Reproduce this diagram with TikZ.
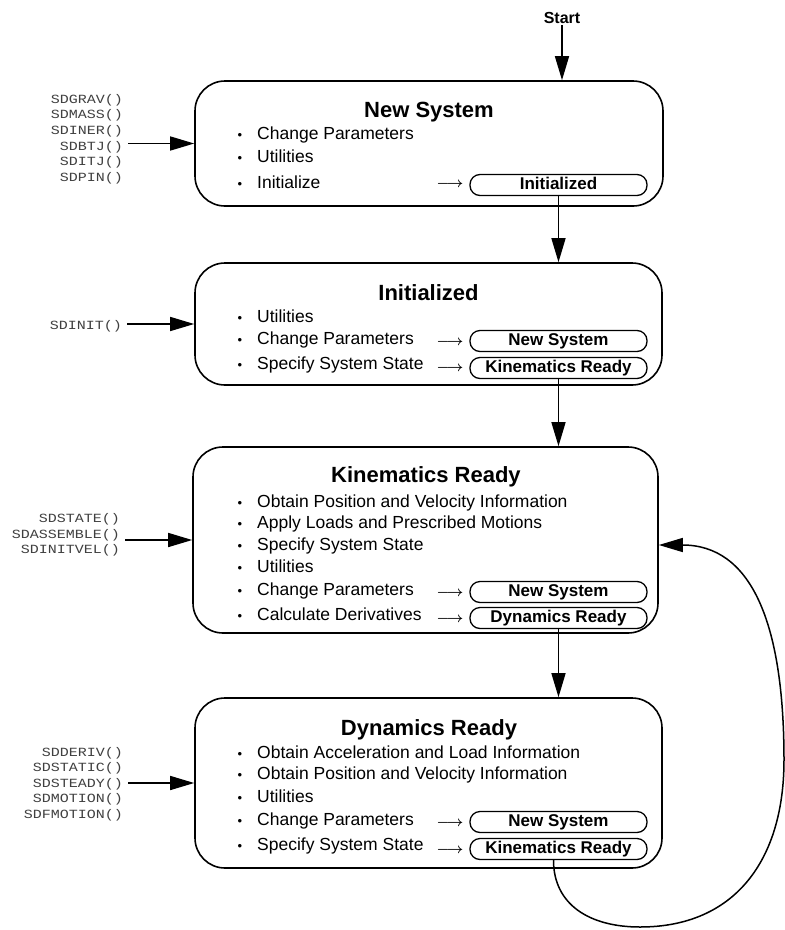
\documentclass[tikz,border=0pt]{standalone}
\usepackage{fontspec}
\setmainfont{Liberation Sans}
\newfontfamily\codefont[FakeStretch=1.2]{Liberation Mono}
\usetikzlibrary{arrows.meta}

\tikzset{
 statebox/.style={draw, line width=1.6pt, rounded corners=30pt, inner sep=0pt},
 subbox/.style={draw, line width=1.3pt, rounded corners=10pt, minimum width=177pt, minimum height=21pt, inner sep=0pt, font=\fontsize{17}{20}\selectfont\bfseries, text height=12.5pt, text depth=3.5pt},
 title/.style={anchor=base, font=\fontsize{22}{26}\selectfont\bfseries, inner sep=0pt},
 btext/.style={anchor=base west, font=\fontsize{17.5}{21}\selectfont, inner sep=0pt},
 bdot/.style={anchor=base, font=\fontsize{13}{15}\selectfont, inner sep=0pt},
 marrow/.style={anchor=base, inner sep=0pt, font=\fontsize{13.5}{15}\selectfont\boldmath},
 fn/.style={anchor=east, align=right, inner sep=0pt, font=\codefont\fontsize{12.5}{15.6}\selectfont, text=black!75},
 conn/.style={line width=1.5pt},
 tip/.style={-{Triangle[length=24pt,width=14pt]}},
}
\newcommand\bitem[3]{\node[bdot] (#1d) at (240,#2) {\textbullet}; \node[btext] (#1) at (257,#2) {#3};}
\newcommand\goarrow[2]{\node[marrow] (#1) at (450,#2) {$\longrightarrow$};}

\begin{document}
\begin{tikzpicture}[x=1pt,y=-1pt]
\useasboundingbox (0,0) rectangle (785,930);

% ---------- state boxes
\node[statebox, minimum width=468pt, minimum height=125pt] (b1) at (429,143.5) {};
\node[statebox, minimum width=467pt, minimum height=122pt] (b2) at (428.5,324) {};
\node[statebox, minimum width=465pt, minimum height=186pt] (b3) at (425.5,540) {};
\node[statebox, minimum width=467pt, minimum height=170pt] (b4) at (428.5,783) {};

% ---------- titles
\node[title] (t1) at (429,117) {New System};
\node[title] (t2) at (428.5,300) {Initialized};
\node[title] (t3) at (426,482) {Kinematics Ready};
\node[title] (t4) at (429,735) {Dynamics Ready};

% ---------- box 1 items
\bitem{a1}{139}{Change Parameters}
\bitem{a2}{162}{Utilities}
\bitem{a3}{188}{Initialize}
\goarrow{r1}{187}
\node[subbox] (ib1) at (558.5,185) {Initialized};

% ---------- box 2 items
\bitem{c1}{322}{Utilities}
\bitem{c2}{344}{Change Parameters}
\bitem{c3}{369}{Specify System State}
\goarrow{r2}{345}
\goarrow{r3}{371}
\node[subbox] (ib2) at (558.5,341) {New System};
\node[subbox] (ib3) at (558.5,368) {Kinematics Ready};

% ---------- box 3 items
\bitem{k1}{507}{Obtain Position and Velocity Information}
\bitem{k2}{528}{Apply Loads and Prescribed Motions}
\bitem{k3}{550}{Specify System State}
\bitem{k4}{572}{Utilities}
\bitem{k5}{595}{Change Parameters}
\bitem{k6}{620}{Calculate Derivatives}
\goarrow{r4}{596}
\goarrow{r5}{622}
\node[subbox] (ib4) at (558.5,592) {New System};
\node[subbox] (ib5) at (558.5,618) {Dynamics Ready};

% ---------- box 4 items
\bitem{d1}{758}{Obtain Acceleration and Load Information}
\bitem{d2}{779}{Obtain Position and Velocity Information}
\bitem{d3}{802}{Utilities}
\bitem{d4}{825}{Change Parameters}
\bitem{d5}{850}{Specify System State}
\goarrow{r6}{826}
\goarrow{r7}{853}
\node[subbox] (ib6) at (558.5,822) {New System};
\node[subbox] (ib7) at (558.5,849) {Kinematics Ready};

% ---------- function labels
\node[fn] (f1) at (123,139) {SDGRAV()\\SDMASS()\\SDINER()\\SDBTJ()\\SDITJ()\\SDPIN()};
\node[fn] (f2) at (122,326) {SDINIT()};
\node[fn] (f3) at (120,535) {SDSTATE()\\SDASSEMBLE()\\SDINITVEL()};
\node[fn] (f4) at (123,784) {SDDERIV()\\SDSTATIC()\\SDSTEADY()\\SDMOTION()\\SDFMOTION()};

\draw[conn,tip] ([xshift=5pt]f1.east |- b1.west) -- (b1.west);
\draw[conn,tip] ([xshift=5pt]f2.east |- b2.west) -- (b2.west);
\draw[conn,tip] ([xshift=5pt]f3.east |- b3.west) -- (b3.west);
\draw[conn,tip] ([xshift=5pt]f4.east |- b4.west) -- (b4.west);

% ---------- start
\node[anchor=base, inner sep=2pt, font=\fontsize{16}{19}\selectfont\bfseries] (start) at (562,23) {Start};
\draw[conn,tip] (start.south) -- (start.south |- b1.north);

% ---------- vertical connectors
\draw[conn,tip] (ib1.south) -- (ib1.south |- b2.north);
\draw[conn,tip] (ib3.south) -- (ib3.south |- b3.north);
\draw[conn,tip] (ib5.south) -- (ib5.south |- b4.north);

% ---------- loop back
\coordinate (lp1) at (640,927);
\coordinate (lp2) at (784,760);
\draw[conn,tip] ([xshift=-5pt]ib7.south) .. controls (553.5,905) and (590,927) .. (lp1)
  .. controls (735,927) and (784,860) .. (lp2)
  .. controls (784,620) and (750,545) .. ([yshift=-5pt]b3.east);
\end{tikzpicture}
\end{document}
